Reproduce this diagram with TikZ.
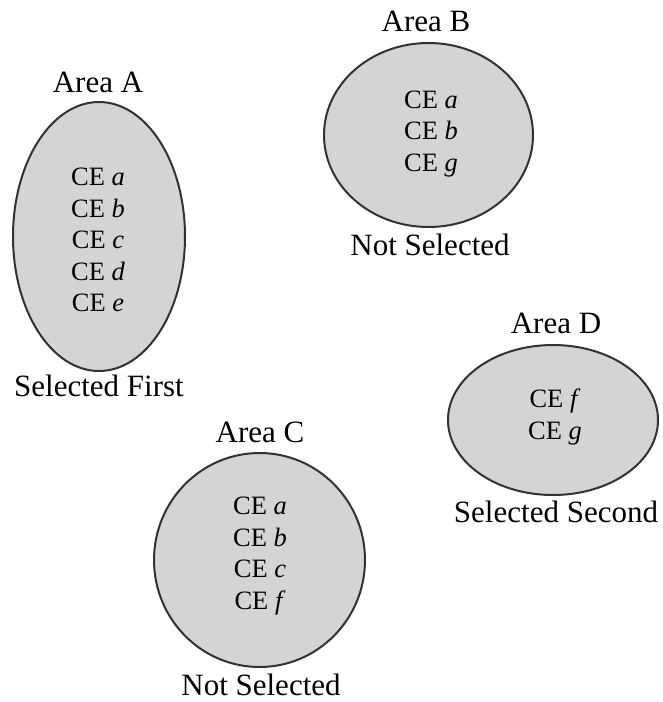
\documentclass[tikz,border=0pt]{standalone}
\usepackage{fontspec}
\setmainfont{Liberation Serif}
\usetikzlibrary{shapes.geometric}
\definecolor{areafill}{RGB}{212,212,212}
\definecolor{areadraw}{RGB}{50,50,50}
\begin{document}
\begin{tikzpicture}[x=1pt,y=-1pt,
  area/.style={draw=areadraw,line width=2pt,fill=areafill},
  lbl/.style={font=\fontsize{31}{34}\selectfont,inner sep=0pt},
  ces/.style={font=\fontsize{26.5}{31.5}\selectfont,align=center,inner sep=0pt}]
\useasboundingbox (0,0) rectangle (663,702);
% Area A
\draw[area] (99,236.5) ellipse [x radius=86,y radius=134.5];
\node[ces] (ceA) at (98,240) {CE \textit{a}\\CE \textit{b}\\CE \textit{c}\\CE \textit{d}\\CE \textit{e}};
\node[lbl] (lA) at (98,82) {Area A};
\node[lbl] (sA) at (99,386) {Selected First};
% Area B
\draw[area] (428.5,135) ellipse [x radius=104.5,y radius=92];
\node[ces] (ceB) at (431,134) {CE \textit{a}\\CE \textit{b}\\CE \textit{g}};
\node[lbl] (lB) at (426,21) {Area B};
\node[lbl] (sB) at (430,245) {Not Selected};
% Area D
\draw[area] (553,420) ellipse [x radius=105,y radius=75];
\node[ces] (ceD) at (555,417) {CE \textit{f}\\CE \textit{g}};
\node[lbl] (lD) at (556,323) {Area D};
\node[lbl] (sD) at (556,512) {Selected Second};
% Area C
\draw[area] (259.5,560) ellipse [x radius=105.5,y radius=107];
\node[ces] (ceC) at (260,556) {CE \textit{a}\\CE \textit{b}\\CE \textit{c}\\CE \textit{f}};
\node[lbl] (lC) at (260,432) {Area C};
\node[lbl] (sC) at (261,685) {Not Selected};
\end{tikzpicture}
\end{document}
